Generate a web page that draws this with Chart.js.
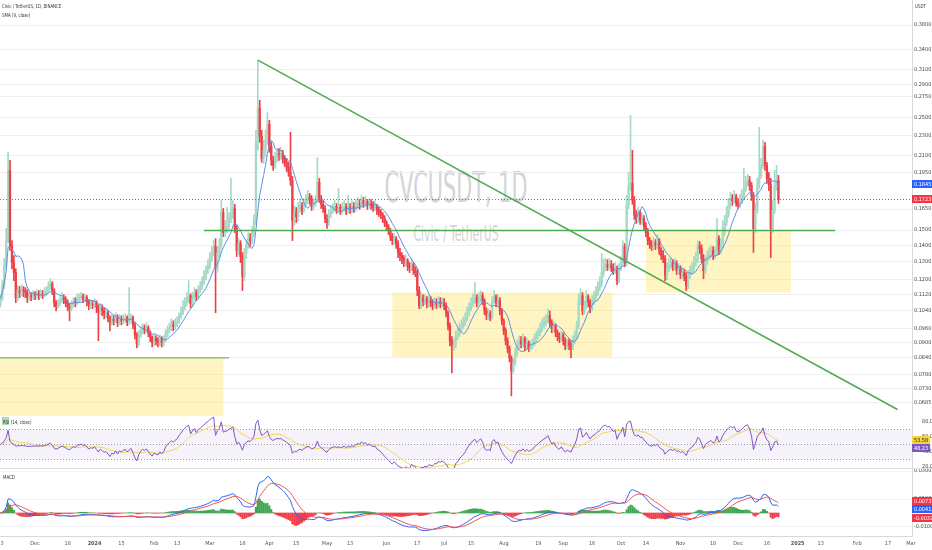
<!DOCTYPE html>
<html>
<head>
<meta charset="utf-8">
<script src="https://cdn.jsdelivr.net/npm/chart.js@4.4.1/dist/chart.umd.min.js"></script>
<style>
  body { margin: 0; width: 932px; height: 550px; overflow: hidden; position: relative; background: #fff;
         font-family: "Liberation Sans Narrow", "DejaVu Sans Condensed", "Liberation Sans", Arial, sans-serif; }
  canvas { position: absolute; left: 0; z-index: 1; }
  .mark { position: absolute; z-index: 0; color: #d3d4d8; white-space: nowrap; transform-origin: center; }
  .tiny { position: absolute; z-index: 2; font-size: 5.5px; color: #333; white-space: nowrap; transform: scaleX(0.8); transform-origin: left top; }
</style>
</head>
<body>
<div class="mark" style="left:256px;width:400px;text-align:center;top:167px;font-size:42px;line-height:42px;transform:scaleX(0.55)">CVCUSDT, 1D</div>
<div class="mark" style="left:256px;width:400px;text-align:center;top:223px;font-size:22px;line-height:22px;transform:scaleX(0.55)">Civic / TetherUS</div>

<canvas id="priceChart" width="932" height="416" style="top:0"></canvas>
<canvas id="rsiChart" width="932" height="53" style="top:416px"></canvas>
<canvas id="macdChart" width="932" height="81" style="top:469px"></canvas>

<div class="tiny" style="left:2px;top:3px">Civic / TetherUS, 1D, BINANCE</div>
<div class="tiny" style="left:2px;top:12px">SMA (9, close)</div>
<div class="tiny" style="left:915px;top:3px">USDT</div>
<div style="position:absolute;z-index:2;left:2px;top:417px;width:7px;height:8px;background:rgba(76,175,80,0.45)"></div>
<div class="tiny" style="left:3px;top:419px">RSI (14, close)</div>
<div class="tiny" style="left:3px;top:474px">MACD</div>

<script>
// Daily candles, CVC/USDT, from 13 Nov 2023 (day 0) to 22 Dec 2024
const firstOpen = 0.1074;
const closes = [
  .1099,.1166,.1276,.1430,.1966,.1398,.1294,.1237,.1104,.1140,
  .1130,.1145,.1140,.1130,.1104,.1114,.1109,.1119,.1114,.1124,
  .1114,.1124,.1119,.1130,.1140,.1161,.1176,.1140,.1079,.1059,
  .1074,.1089,.1104,.1094,.1079,.1059,.1050,.1069,.1084,.1079,
  .1099,.1104,.1109,.1099,.1104,.1084,.1064,.1074,.1069,.1079,
  .1059,.1035,.1054,.1040,.1026,.1031,.1008,.0985,.1003,.0994,
  .1012,.0985,.1003,.0994,.1003,.1008,.0990,.0999,.1008,.0976,
  .0933,.0895,.0929,.0950,.0963,.0954,.0963,.0942,.0921,.0900,
  .0916,.0908,.0900,.0916,.0900,.0912,.0937,.0954,.0963,.0976,
  .0968,.0981,.0990,.1012,.1031,.1059,.1079,.1099,.1114,.1074,
  .1104,.1130,.1109,.1145,.1161,.1187,.1214,.1248,.1276,.1318,
  .1355,.1392,.1259,.1355,.1398,.1624,.1483,.1511,.1524,.1580,
  .1609,.1654,.1511,.1367,.1411,.1330,.1214,.1349,.1404,.1443,
  .1430,.1483,.1566,.2233,.2606,.2295,.2076,.2153,.2253,.2423,
  .2192,.2057,.2011,.2076,.2124,.2105,.2124,.2076,.2039,.1993,
  .1948,.1879,.1566,.1624,.1595,.1654,.1677,.1639,.1685,.1715,
  .1747,.1723,.1669,.1692,.1715,.1862,.1731,.1685,.1654,.1580,
  .1552,.1609,.1639,.1654,.1669,.1647,.1662,.1639,.1654,.1669,
  .1639,.1662,.1647,.1669,.1654,.1677,.1692,.1685,.1715,.1692,
  .1707,.1677,.1692,.1677,.1662,.1669,.1639,.1624,.1609,.1580,
  .1552,.1524,.1497,.1456,.1430,.1443,.1411,.1355,.1336,.1318,
  .1294,.1306,.1270,.1259,.1282,.1248,.1237,.1140,.1064,.1099,
  .1084,.1094,.1074,.1089,.1079,.1064,.1079,.1069,.1084,.1074,
  .1079,.1064,.1031,.0972,.0908,.0887,.0891,.0929,.0937,.0959,
  .0972,.0985,.1003,.1031,.1050,.1074,.1089,.1104,.1079,.1099,
  .1114,.1089,.1040,.1017,.1026,.1012,.1089,.1109,.1079,.1089,
  .1040,.0994,.0950,.0908,.0876,.0840,.0792,.0821,.0860,.0887,
  .0908,.0895,.0916,.0883,.0900,.0879,.0887,.0895,.0916,.0929,
  .0942,.0959,.0972,.0985,.0994,.1017,.0985,.0959,.0972,.0942,
  .0925,.0916,.0933,.0908,.0887,.0900,.0891,.0883,.0908,.0929,
  .0972,.1089,.1114,.1040,.1064,.1109,.1079,.1050,.1089,.1104,
  .1130,.1156,.1176,.1237,.1270,.1282,.1270,.1282,.1265,.1248,
  .1259,.1192,.1259,.1294,.1392,.1294,.1677,.1828,.1853,.1715,
  .1602,.1580,.1617,.1566,.1580,.1524,.1483,.1430,.1404,.1392,
  .1417,.1398,.1430,.1367,.1336,.1318,.1220,.1259,.1282,.1294,
  .1270,.1288,.1248,.1259,.1226,.1237,.1214,.1166,.1220,.1248,
  .1259,.1294,.1318,.1398,.1380,.1318,.1248,.1306,.1330,.1349,
  .1367,.1336,.1355,.1443,.1367,.1398,.1483,.1552,.1609,.1677,
  .1731,.1715,.1747,.1700,.1685,.1715,.1755,.1811,.1862,.1879,
  .1836,.1755,.1511,.1639,.1836,.1922,.2011,.2192,.2011,.1896,
  .1845,.1511,.1639,.1836,.1879,.1723
];
const highs = [
  .1119,.1192,.1318,.1511,.2134,.2057,.1430,.1336,.1259,.1166,
  .1161,.1171,.1161,.1156,.1145,.1135,.1130,.1140,.1135,.1145,
  .1140,.1145,.1140,.1156,.1161,.1187,.1203,.1187,.1150,.1089,
  .1094,.1109,.1130,.1119,.1109,.1094,.1074,.1089,.1104,.1104,
  .1124,.1124,.1130,.1124,.1124,.1114,.1094,.1094,.1089,.1099,
  .1089,.1069,.1074,.1069,.1054,.1050,.1040,.1017,.1022,.1017,
  .1031,.1022,.1022,.1017,.1022,.1026,.1017,.1156,.1026,.1017,
  .0985,.0942,.0950,.0968,.0981,.0976,.0985,.0972,.0950,.0929,
  .0933,.0929,.0921,.0933,.0925,.0929,.0954,.0972,.0985,.1003,
  .0994,.1003,.1012,.1031,.1059,.1089,.1104,.1130,.1192,.1124,
  .1130,.1156,.1145,.1166,.1187,.1214,.1248,.1276,.1312,.1355,
  .1392,.1430,.1443,.1392,.1443,.1715,.1654,.1566,.1662,.1624,
  .1896,.1715,.1685,.1531,.1443,.1430,.1355,.1380,.1430,.1483,
  .1477,.1524,.1609,.2358,.3241,.2702,.2358,.2253,.2358,.2559,
  .2467,.2233,.2095,.2134,.2172,.2172,.2182,.2153,.2105,.2076,
  .2039,.2337,.1913,.1677,.1662,.1700,.1731,.1700,.1731,.1763,
  .1795,.1771,.1755,.1731,.1755,.2086,.1896,.1755,.1715,.1677,
  .1609,.1647,.1677,.1692,.1715,.1692,.1811,.1685,.1700,.1715,
  .1692,.1755,.1692,.1715,.1700,.1723,.1739,.1723,.1755,.1739,
  .1747,.1723,.1731,.1723,.1707,.1715,.1685,.1662,.1647,.1624,
  .1602,.1566,.1538,.1511,.1477,.1477,.1456,.1430,.1380,.1355,
  .1336,.1342,.1318,.1294,.1318,.1294,.1270,.1259,.1161,.1130,
  .1119,.1119,.1109,.1114,.1109,.1094,.1104,.1099,.1109,.1104,
  .1104,.1099,.1079,.1040,.0985,.0925,.0916,.0950,.0963,.0985,
  .0999,.1012,.1031,.1059,.1079,.1104,.1124,.1182,.1119,.1130,
  .1140,.1130,.1099,.1054,.1050,.1040,.1109,.1140,.1119,.1119,
  .1104,.1050,.1003,.0963,.0921,.0887,.0848,.0837,.0879,.0912,
  .0929,.0925,.0937,.0925,.0921,.0908,.0908,.0916,.0937,.0950,
  .0963,.0985,.1003,.1012,.1022,.1050,.1040,.0999,.0994,.0981,
  .0954,.0942,.0950,.0942,.0921,.0916,.0916,.0908,.0929,.0950,
  .0994,.1124,.1150,.1130,.1089,.1140,.1119,.1094,.1114,.1135,
  .1161,.1187,.1214,.1349,.1318,.1318,.1312,.1318,.1306,.1288,
  .1294,.1276,.1288,.1330,.1430,.1411,.1755,.1948,.2524,.2153,
  .1747,.1639,.1662,.1639,.1624,.1602,.1552,.1511,.1450,.1430,
  .1450,.1437,.1470,.1443,.1386,.1367,.1336,.1294,.1318,.1324,
  .1312,.1318,.1306,.1288,.1276,.1259,.1254,.1237,.1248,.1276,
  .1294,.1330,.1355,.1430,.1424,.1404,.1342,.1336,.1367,.1386,
  .1398,.1392,.1392,.1580,.1463,.1443,.1566,.1602,.1669,.1731,
  .1779,.1763,.1795,.1763,.1731,.1763,.1803,.1984,.1913,.1931,
  .1913,.1862,.1779,.1692,.1896,.2390,.2076,.2253,.2233,.2039,
  .1948,.1896,.1715,.1966,.2011,.1922
];
const lows = [
  .1059,.1089,.1150,.1259,.1417,.1367,.1259,.1192,.1079,.1089,
  .1104,.1114,.1109,.1104,.1079,.1089,.1089,.1094,.1094,.1099,
  .1094,.1104,.1099,.1109,.1114,.1130,.1145,.1119,.1059,.1040,
  .1050,.1064,.1079,.1074,.1059,.1040,.0994,.1040,.1059,.1059,
  .1069,.1084,.1089,.1079,.1084,.1064,.1045,.1050,.1050,.1054,
  .1031,.0908,.1022,.1017,.1003,.1008,.0990,.0950,.0976,.0976,
  .0985,.0968,.0976,.0976,.0981,.0985,.0972,.0976,.0985,.0959,
  .0916,.0879,.0887,.0921,.0937,.0937,.0942,.0925,.0904,.0883,
  .0887,.0891,.0883,.0887,.0883,.0887,.0904,.0925,.0942,.0950,
  .0950,.0954,.0968,.0981,.1003,.1022,.1045,.1064,.1079,.1054,
  .1059,.1089,.1089,.1099,.1130,.1145,.1171,.1198,.1231,.1259,
  .1300,.1336,.1031,.1237,.1330,.1380,.1456,.1456,.1483,.1497,
  .1552,.1580,.1483,.1330,.1342,.1294,.1140,.1192,.1318,.1380,
  .1392,.1411,.1456,.1538,.2153,.2233,.2039,.2029,.2095,.2212,
  .2134,.2011,.1966,.1984,.2039,.2057,.2067,.2029,.2002,.1957,
  .1913,.1836,.1430,.1531,.1552,.1566,.1624,.1609,.1624,.1662,
  .1692,.1685,.1639,.1647,.1669,.1700,.1700,.1654,.1624,.1552,
  .1511,.1531,.1588,.1617,.1632,.1617,.1624,.1609,.1617,.1632,
  .1609,.1617,.1617,.1624,.1624,.1632,.1654,.1647,.1662,.1662,
  .1669,.1647,.1654,.1647,.1632,.1639,.1609,.1595,.1580,.1552,
  .1524,.1497,.1470,.1430,.1404,.1404,.1380,.1324,.1306,.1288,
  .1270,.1276,.1248,.1237,.1248,.1226,.1214,.1114,.1050,.1050,
  .1064,.1069,.1054,.1059,.1059,.1045,.1054,.1050,.1059,.1054,
  .1059,.1045,.1012,.0954,.0887,.0785,.0868,.0879,.0912,.0925,
  .0946,.0959,.0972,.0994,.1017,.1040,.1059,.1074,.1059,.1069,
  .1079,.1069,.1022,.0999,.0999,.0994,.1003,.1074,.1059,.1064,
  .1022,.0976,.0933,.0891,.0860,.0825,.0707,.0785,.0814,.0848,
  .0876,.0879,.0883,.0868,.0872,.0864,.0868,.0876,.0887,.0904,
  .0916,.0929,.0946,.0959,.0972,.0985,.0968,.0942,.0946,.0925,
  .0908,.0900,.0904,.0891,.0872,.0876,.0872,.0840,.0872,.0895,
  .0916,.0959,.1069,.1022,.1026,.1050,.1059,.1031,.1040,.1069,
  .1089,.1114,.1140,.1161,.1214,.1248,.1248,.1254,.1242,.1226,
  .1231,.1171,.1182,.1248,.1276,.1270,.1276,.1654,.1795,.1685,
  .1573,.1545,.1552,.1538,.1538,.1497,.1456,.1404,.1380,.1367,
  .1373,.1373,.1380,.1342,.1312,.1294,.1192,.1198,.1242,.1259,
  .1248,.1254,.1226,.1226,.1203,.1203,.1192,.1140,.1150,.1203,
  .1226,.1242,.1276,.1294,.1349,.1294,.1203,.1231,.1282,.1312,
  .1324,.1312,.1318,.1336,.1342,.1349,.1380,.1463,.1531,.1588,
  .1654,.1677,.1692,.1669,.1654,.1662,.1692,.1731,.1787,.1828,
  .1795,.1715,.1355,.1483,.1617,.1811,.1896,.1984,.1966,.1853,
  .1795,.1324,.1483,.1617,.1795,.1692
];

// Drawings on the price pane (day index, price)
const trendDays = [134, 467];
const trendPrices = [0.3241, 0.0665];
const resistDays = [106, 434.5];
const resistPrice = 0.1497;
const floorDays = [-1, 119];
const floorPrice = 0.0840;
const boxStartDays = [-1, 204, 336];
const boxEndDays = [116, 318.5, 411.5];
const boxTopPrices = [0.0840, 0.1130, 0.1497];
const boxBottomPrices = [0.05, 0.0844, 0.1130];

// Axis ticks
const priceTicks = [0.38, 0.34, 0.31, 0.29, 0.275, 0.25, 0.23, 0.21, 0.195, 0.165, 0.15, 0.14, 0.13, 0.12, 0.112, 0.104, 0.096, 0.09, 0.084, 0.078, 0.073, 0.0685];
const rsiTicks = [80, 60, 40, 20];
const macdTicks = [0.03, 0.01, -0.01];
const timeTickDays = [0, 18, 35, 49, 63, 80, 92, 109, 126, 140, 154, 170, 182, 201, 217, 231, 245, 262, 280, 293, 308, 323, 336, 354, 371, 384, 399, 415, 427, 446, 462, 474];
const timeTickLabels = ['13', 'Dec', '18', '2024', '15', 'Feb', '13', 'Mar', '18', 'Apr', '15', 'May', '13', 'Jun', '17', 'Jul', '15', 'Aug', '19', 'Sep', '16', 'Oct', '14', 'Nov', '18', 'Dec', '16', '2025', '13', 'Feb', '17', 'Mar'];

// Last values shown in the scale tags
const smaLastLabel = 0.1845;
const rsiLastLabel = 48.23;
const rsiMaLastLabel = 53.58;
const macdLastLabel = 0.0041;
const signalLastLabel = 0.0073;
const histLastLabel = -0.0032;

// View window
const viewStartDay = -0.21, viewEndDay = 474.53;
const priceMin = 0.06456, priceMax = 0.4257;

const FONT = '"Liberation Sans Narrow", "DejaVu Sans Condensed", "Liberation Sans", Arial, sans-serif';
const UP = '#a6d9c6', DOWN = '#ef4048';

// Indicators
function sma(arr, len) {
  return arr.map((v, i) => {
    const s = Math.max(0, i - len + 1);
    let t = 0;
    for (let k = s; k <= i; k++) t += arr[k];
    return t / (i - s + 1);
  });
}
function ema(arr, len) {
  const a = 2 / (len + 1);
  let prev = arr[0];
  return arr.map((v, i) => (prev = i === 0 ? v : a * v + (1 - a) * prev));
}
function rsi(arr, len) {
  let seed = 0;
  for (let i = 1; i <= len; i++) seed += Math.abs(arr[i] - arr[i - 1]);
  let ag = seed / len / 2, al = seed / len / 2;
  const out = [50];
  for (let i = 1; i < arr.length; i++) {
    const d = arr[i] - arr[i - 1];
    ag = (ag * (len - 1) + Math.max(d, 0)) / len;
    al = (al * (len - 1) + Math.max(-d, 0)) / len;
    out.push(100 - 100 / (1 + ag / al));
  }
  return out;
}

const days = closes.map((c, i) => i);
const opens = closes.map((c, i) => (i === 0 ? firstOpen : closes[i - 1]));
const colors = closes.map((c, i) => (c >= opens[i] ? UP : DOWN));
const smaVals = sma(closes, 9);
const rsiVals = rsi(closes, 14);
const rsiMa = sma(rsiVals, 14);
const fast = ema(closes, 12), slow = ema(closes, 26);
const macdVals = fast.map((f, i) => f - slow[i]);
const signalVals = ema(macdVals, 9);
const histVals = macdVals.map((m, i) => m - signalVals[i]);

// Tags on the right scale, pushed apart when they overlap
function drawTags(chart, tags) {
  const { ctx, chartArea: a, scales: { y } } = chart;
  const h = 8;
  const items = tags.map(t => Object.assign({ py: y.getPixelForValue(t.value) }, t)).sort((p, q) => p.py - q.py);
  for (let k = 0; k < 8; k++) {
    for (let j = 1; j < items.length; j++) {
      const gap = items[j].py - items[j - 1].py;
      if (gap < h + 0.5) {
        const d = (h + 0.5 - gap) / 2;
        items[j - 1].py -= d;
        items[j].py += d;
      }
    }
  }
  ctx.save();
  ctx.font = '5.5px ' + FONT;
  ctx.textBaseline = 'middle';
  items.forEach(t => {
    const w = ctx.measureText(t.text).width + 4;
    ctx.fillStyle = t.bg;
    ctx.fillRect(a.right, Math.round(t.py - h / 2), w, h);
    ctx.fillStyle = t.fg;
    ctx.fillText(t.text, a.right + 2, Math.round(t.py - h / 2) + h / 2 + 0.5);
  });
  ctx.restore();
}

function rightAxis(extra) {
  return Object.assign({
    position: 'right',
    afterFit: s => { s.width = 20; s.paddingTop = 0; s.paddingBottom = 0; },
    grid: { color: '#efeff1', drawTicks: false },
    border: { color: '#d9d9dc' },
    ticks: { font: { size: 5.5, family: FONT }, color: '#444', padding: 2 }
  }, extra);
}

const common = {
  responsive: false,
  animation: false,
  devicePixelRatio: 1,
  layout: { padding: 0 },
  plugins: { legend: { display: false }, tooltip: { enabled: false } }
};

// Price pane
const pricePlugin = {
  id: 'pricePane',
  beforeDatasetsDraw(chart) {
    const { ctx, chartArea: a, scales: { x, y } } = chart;
    ctx.save();
    ctx.beginPath();
    ctx.rect(a.left, a.top, a.right - a.left, a.bottom - a.top);
    ctx.clip();
    ctx.fillStyle = 'rgba(255, 232, 110, 0.42)';
    boxStartDays.forEach((d, k) => {
      const x0 = x.getPixelForValue(d), x1 = x.getPixelForValue(boxEndDays[k]);
      const y0 = y.getPixelForValue(boxTopPrices[k]), y1 = y.getPixelForValue(boxBottomPrices[k]);
      ctx.fillRect(x0, y0, x1 - x0, y1 - y0);
    });
    ctx.restore();
  },
  afterDraw(chart) {
    const { ctx, chartArea: a, scales: { y } } = chart;
    const last = closes[closes.length - 1];
    const py = Math.round(y.getPixelForValue(last)) + 0.5;
    ctx.save();
    ctx.strokeStyle = DOWN;
    ctx.lineWidth = 1;
    ctx.setLineDash([1, 2]);
    ctx.beginPath();
    ctx.moveTo(a.left, py);
    ctx.lineTo(a.right, py);
    ctx.stroke();
    ctx.setLineDash([]);
    ctx.strokeStyle = '#e0e0e3';
    ctx.beginPath();
    ctx.moveTo(0, a.bottom + 0.5);
    ctx.lineTo(chart.width, a.bottom + 0.5);
    ctx.stroke();
    ctx.restore();
    drawTags(chart, [
      { value: smaLastLabel, text: smaLastLabel.toFixed(4), bg: '#2962ff', fg: '#fff' },
      { value: last, text: last.toFixed(4), bg: '#f23645', fg: '#fff' }
    ]);
  }
};

new Chart(document.getElementById('priceChart'), {
  type: 'bar',
  data: {
    datasets: [
      { label: 'wick', data: days.map(i => ({ x: i, y: [lows[i], highs[i]] })), backgroundColor: colors, barThickness: 1, grouped: false, order: 5 },
      { label: 'body', data: days.map(i => ({ x: i, y: [opens[i], closes[i]] })), backgroundColor: colors, barThickness: 1.6, minBarLength: 1, grouped: false, order: 4 },
      { type: 'line', label: 'SMA 9', data: days.map(i => ({ x: i, y: smaVals[i] })), borderColor: '#5b8fe6', borderWidth: 1, pointRadius: 0, order: 3 },
      { type: 'line', label: 'trend', data: trendDays.map((d, k) => ({ x: d, y: trendPrices[k] })), borderColor: '#4fa94f', borderWidth: 1.5, pointRadius: 0, order: 1 },
      { type: 'line', label: 'resistance', data: resistDays.map(d => ({ x: d, y: resistPrice })), borderColor: '#4fa94f', borderWidth: 1.5, pointRadius: 0, order: 1 },
      { type: 'line', label: 'floor', data: floorDays.map(d => ({ x: d, y: floorPrice })), borderColor: '#6cb86c', borderWidth: 1.2, pointRadius: 0, order: 1 }
    ]
  },
  options: Object.assign({}, common, {
    scales: {
      x: { type: 'linear', min: viewStartDay, max: viewEndDay, offset: false, display: false },
      y: rightAxis({
        type: 'logarithmic', min: priceMin, max: priceMax,
        afterBuildTicks: s => { s.ticks = priceTicks.map(v => ({ value: v })); },
        ticks: { font: { size: 5.5, family: FONT }, color: '#444', padding: 2, callback: v => Number(v).toFixed(4) }
      })
    }
  }),
  plugins: [pricePlugin]
});

// RSI pane
const rsiPlugin = {
  id: 'rsiPane',
  beforeDatasetsDraw(chart) {
    const { ctx, chartArea: a, scales: { y } } = chart;
    const y70 = y.getPixelForValue(70), y30 = y.getPixelForValue(30);
    ctx.save();
    ctx.fillStyle = 'rgba(126, 87, 194, 0.08)';
    ctx.fillRect(a.left, y70, a.right - a.left, y30 - y70);
    ctx.strokeStyle = '#9a9aa3';
    ctx.lineWidth = 1;
    ctx.setLineDash([1, 2]);
    [70, 50, 30].forEach(v => {
      const py = Math.round(y.getPixelForValue(v)) + 0.5;
      ctx.beginPath();
      ctx.moveTo(a.left, py);
      ctx.lineTo(a.right, py);
      ctx.stroke();
    });
    ctx.restore();
  },
  afterDraw(chart) {
    const { ctx, chartArea: a } = chart;
    ctx.save();
    ctx.strokeStyle = '#e0e0e3';
    ctx.beginPath();
    ctx.moveTo(0, a.bottom - 0.5);
    ctx.lineTo(chart.width, a.bottom - 0.5);
    ctx.stroke();
    ctx.restore();
    drawTags(chart, [
      { value: rsiMaLastLabel, text: rsiMaLastLabel.toFixed(2), bg: '#f5d442', fg: '#222' },
      { value: rsiLastLabel, text: rsiLastLabel.toFixed(2), bg: '#7e57c2', fg: '#fff' }
    ]);
  }
};

new Chart(document.getElementById('rsiChart'), {
  type: 'line',
  data: {
    datasets: [
      { label: 'RSI', data: days.map(i => ({ x: i, y: rsiVals[i] })), borderColor: '#7e57c2', borderWidth: 1, pointRadius: 0, order: 1 },
      { label: 'RSI MA', data: days.map(i => ({ x: i, y: rsiMa[i] })), borderColor: '#f2d451', borderWidth: 1, pointRadius: 0, order: 2 }
    ]
  },
  options: Object.assign({}, common, {
    scales: {
      x: { type: 'linear', min: viewStartDay, max: viewEndDay, display: false },
      y: rightAxis({
        min: 17.33, max: 88,
        afterBuildTicks: s => { s.ticks = rsiTicks.map(v => ({ value: v })); },
        grid: { display: false },
        ticks: { font: { size: 5.5, family: FONT }, color: '#444', padding: 2, callback: v => Number(v).toFixed(2) }
      })
    }
  }),
  plugins: [rsiPlugin]
});

// MACD pane with the time axis
const macdPlugin = {
  id: 'macdPane',
  afterDraw(chart) {
    drawTags(chart, [
      { value: signalLastLabel, text: signalLastLabel.toFixed(4), bg: '#f23645', fg: '#fff' },
      { value: macdLastLabel, text: macdLastLabel.toFixed(4), bg: '#2962ff', fg: '#fff' },
      { value: histLastLabel, text: histLastLabel.toFixed(4), bg: '#f23645', fg: '#fff' }
    ]);
  }
};

new Chart(document.getElementById('macdChart'), {
  type: 'bar',
  data: {
    datasets: [
      { label: 'Histogram', data: days.map(i => ({ x: i, y: histVals[i] })), backgroundColor: histVals.map(v => (v >= 0 ? '#3fa653' : '#ef3e46')), barThickness: 1.5, order: 3 },
      { type: 'line', label: 'MACD', data: days.map(i => ({ x: i, y: macdVals[i] })), borderColor: '#2962ff', borderWidth: 1, pointRadius: 0, order: 2 },
      { type: 'line', label: 'Signal', data: days.map(i => ({ x: i, y: signalVals[i] })), borderColor: '#f0524f', borderWidth: 1, pointRadius: 0, order: 1 }
    ]
  },
  options: Object.assign({}, common, {
    scales: {
      x: {
        type: 'linear', min: viewStartDay, max: viewEndDay, offset: false,
        afterBuildTicks: s => { s.ticks = timeTickDays.map(v => ({ value: v })); },
        afterFit: s => { s.height = 14; s.paddingLeft = 0; s.paddingRight = 0; },
        grid: { display: false, drawTicks: false },
        border: { color: '#d9d9dc' },
        ticks: {
          autoSkip: false, maxRotation: 0, padding: 4, color: '#555',
          font: c => ({ size: 5.5, family: FONT, weight: /^20/.test(c.tick && c.tick.label) ? 'bold' : 'normal' }),
          callback: v => timeTickLabels[timeTickDays.indexOf(v)]
        }
      },
      y: rightAxis({
        min: -0.016429, max: 0.031429,
        afterBuildTicks: s => { s.ticks = macdTicks.map(v => ({ value: v })); },
        grid: { color: '#f3f3f5', drawTicks: false },
        ticks: { font: { size: 5.5, family: FONT }, color: '#444', padding: 2, callback: v => Number(v).toFixed(4) }
      })
    }
  }),
  plugins: [macdPlugin]
});
</script>
</body>
</html>
